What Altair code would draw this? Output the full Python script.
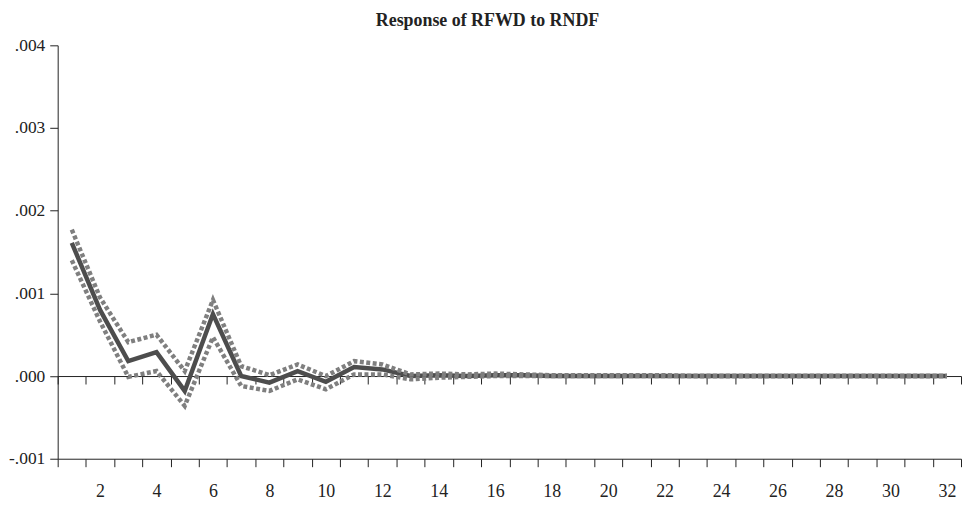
import altair as alt
import pandas as pd

periods = list(range(1, 33))
response = [0.00161, 0.00080, 0.00018, 0.00029, -0.00018, 0.00075, 0.00000, -0.00008,
            0.00006, -0.00007, 0.00011, 0.00008, 0.00000, 0.00001, 0.00000, 0.00001,
            0.00001, 0.00000, 0.00000, 0.00000, 0.00000, 0.00000, 0.00000, 0.00000,
            0.00000, 0.00000, 0.00000, 0.00000, 0.00000, 0.00000, 0.00000, 0.00000]
upper = [0.00177, 0.00095, 0.00041, 0.00050, 0.00006, 0.00092, 0.00012, 0.00001,
         0.00014, 0.00000, 0.00018, 0.00014, 0.00002, 0.00003, 0.00002, 0.00003,
         0.00002, 0.00001, 0.00001, 0.00001, 0.00001, 0.00001, 0.00000, 0.00000,
         0.00000, 0.00000, 0.00000, 0.00000, 0.00000, 0.00000, 0.00000, 0.00000]
lower = [0.00140, 0.00066, -0.00001, 0.00006, -0.00036, 0.00047, -0.00012, -0.00018,
         -0.00004, -0.00016, 0.00002, 0.00002, -0.00004, -0.00002, -0.00001, 0.00000,
         0.00000, 0.00000, 0.00000, 0.00000, 0.00000, 0.00000, 0.00000, 0.00000,
         0.00000, 0.00000, 0.00000, 0.00000, 0.00000, 0.00000, 0.00000, 0.00000]
x_labels = list(range(2, 33, 2))
y_ticks = [-0.001, 0.0, 0.001, 0.002, 0.003, 0.004]
boundaries = [p - 0.5 for p in periods] + [32.5]

df = pd.DataFrame({"period": periods, "response": response, "upper": upper, "lower": lower})

FONT = "Times New Roman, Liberation Serif, serif"
W, H = 909, 416
xscale = alt.Scale(domain=[0.5, 32.5], nice=False, zero=False)
yscale = alt.Scale(domain=[-0.001, 0.004], nice=False, zero=False)

base = alt.Chart(df)

main = base.mark_line(color="#4d4d4d", strokeWidth=4.5).encode(
    x=alt.X("period:Q", scale=xscale,
            axis=alt.Axis(orient="bottom", values=x_labels, ticks=False, domain=False,
                          grid=False, title=None, labelFont=FONT, labelFontSize=18,
                          labelColor="#222", labelPadding=24, labelBaseline="top",
                          format="d")),
    y=alt.Y("response:Q", scale=yscale,
            axis=alt.Axis(orient="left", values=y_ticks, grid=False, title=None,
                          labelExpr="replace(replace(format(datum.value, '.3f'), '\u2212', '-'), '0.', '.')",
                          labelFont=FONT, labelFontSize=17.5, labelColor="#222",
                          tickSize=8, tickColor="#222", domainColor="#222",
                          labelPadding=5)),
)

up = base.mark_line(color="#7f7f7f", strokeWidth=4.5, strokeDash=[4, 2.5]).encode(
    x=alt.X("period:Q", scale=xscale,
            axis=alt.Axis(orient="bottom", values=boundaries, labels=False, grid=False,
                          title=None, tickSize=8, tickColor="#222", domainColor="#222")),
    y=alt.Y("upper:Q", scale=yscale, axis=None),
)

lo = base.mark_line(color="#7f7f7f", strokeWidth=4.5, strokeDash=[4, 2.5]).encode(
    x=alt.X("period:Q", scale=xscale,
            axis=alt.Axis(orient="bottom", values=boundaries, labels=False, grid=False,
                          title=None, tickSize=8, tickColor="#222", domainColor="#222",
                          offset=-H / 5)),
    y=alt.Y("lower:Q", scale=yscale, axis=None),
)

chart = alt.layer(main, up, lo).resolve_axis(x="independent", y="independent").properties(
    width=W, height=H,
    title=alt.TitleParams("Response of RFWD to RNDF", font=FONT, fontSize=18,
                          fontWeight="bold", color="#222", anchor="middle",
                          baseline="alphabetic", offset=9, dx=-22, dy=17),
    autosize=alt.AutoSizeParams(type="none"),
    padding={"left": 50, "top": 36, "right": 2, "bottom": 44},
).configure_view(stroke=None)

chart.save("out.html", embed_options={"renderer": "svg", "actions": False})
